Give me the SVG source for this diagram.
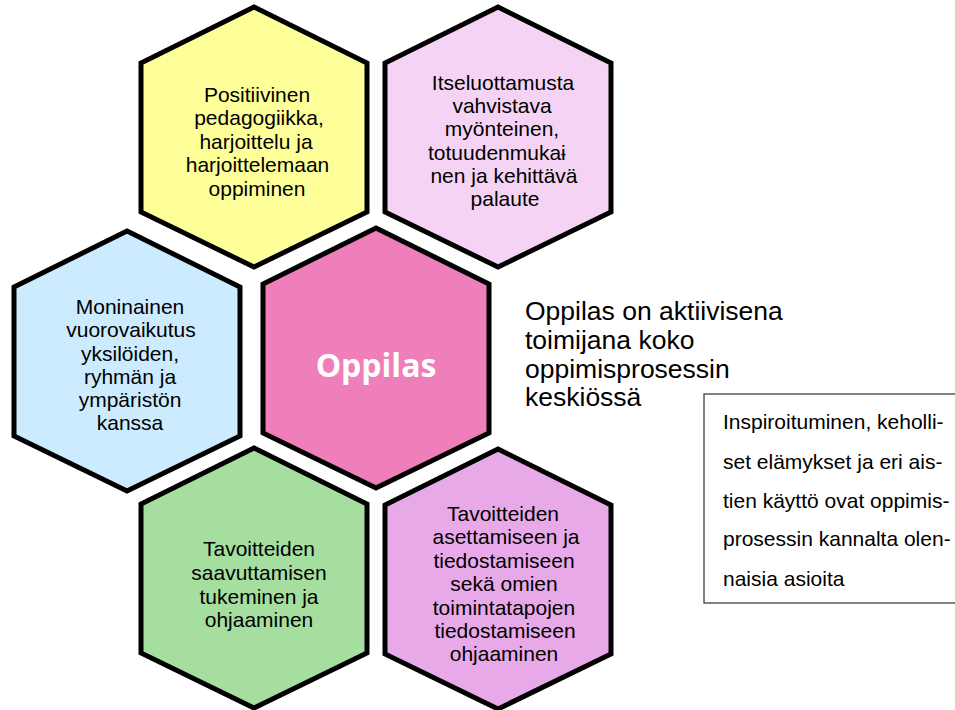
<svg xmlns="http://www.w3.org/2000/svg" width="955" height="710" viewBox="0 0 955 710">
<style>
.hex{stroke:#000;stroke-width:5;stroke-linejoin:miter}
.t{font-family:"Liberation Sans",Arial,sans-serif;font-size:21px;fill:#000;text-anchor:middle}
.big{font-family:"Liberation Sans",Arial,sans-serif;font-size:26.5px;fill:#000}
.box{font-family:"Liberation Sans",Arial,sans-serif;font-size:21px;fill:#000}
.center{font-family:"Open Sans","Lato",sans-serif;font-weight:bold;font-size:32px;fill:#fff;text-anchor:middle}
</style>
<defs>
<polygon id="hx" points="0,-130 113,-74 113,75 0,130 -113,75 -113,-74"/>
</defs>
<rect width="955" height="710" fill="#fff"/>
<g id="connectors"/>
<g id="n-yellow">
<use href="#hx" x="254" y="137" class="hex" fill="#FFFF99"/>
<text class="t"><tspan x="257" y="101.5">Positiivinen</tspan><tspan x="259" y="125">pedagogiikka,</tspan><tspan x="256" y="148.5">harjoittelu ja</tspan><tspan x="257.5" y="172">harjoittelemaan</tspan><tspan x="257" y="195.5">oppiminen</tspan></text>
</g>
<g id="n-lightpink">
<use href="#hx" x="498" y="137" class="hex" fill="#F4D3F4"/>
<text class="t"><tspan x="503" y="89.5">Itseluottamusta</tspan><tspan x="502" y="113">vahvistava</tspan><tspan x="502" y="136">myönteinen,</tspan></text>
<text class="t" style="text-anchor:start" x="428" y="159.5">totuudenmukaɨ</text>
<text class="t"><tspan x="504" y="183">nen ja kehittävä</tspan><tspan x="505" y="206">palaute</tspan></text>
</g>
<g id="n-blue">
<use href="#hx" x="127" y="361" class="hex" fill="#CCEBFF"/>
<text class="t"><tspan x="130" y="313.5">Moninainen</tspan><tspan x="131" y="337">vuorovaikutus</tspan><tspan x="130" y="360.5">yksilöiden,</tspan><tspan x="130" y="384">ryhmän ja</tspan><tspan x="130" y="407">ympäristön</tspan><tspan x="130" y="430">kanssa</tspan></text>
</g>
<g id="n-oppilas">
<use href="#hx" x="376" y="358" class="hex" fill="#EE7FBA"/>
<text class="center" x="376" y="377">Oppilas</text>
</g>
<g id="n-green">
<use href="#hx" x="254" y="578" class="hex" fill="#A5DE9F"/>
<text class="t"><tspan x="259" y="555.5">Tavoitteiden</tspan><tspan x="259" y="579.5">saavuttamisen</tspan><tspan x="259" y="603.5">tukeminen ja</tspan><tspan x="259" y="627">ohjaaminen</tspan></text>
</g>
<g id="n-purple">
<use href="#hx" x="498" y="579" class="hex" fill="#E8A9E8"/>
<text class="t"><tspan x="503" y="520.5">Tavoitteiden</tspan><tspan x="506" y="544">asettamiseen ja</tspan><tspan x="504" y="567.5">tiedostamiseen</tspan><tspan x="504" y="591">sekä omien</tspan><tspan x="504" y="614.5">toimintatapojen</tspan><tspan x="505" y="637.5">tiedostamiseen</tspan><tspan x="504" y="660.5">ohjaaminen</tspan></text>
</g>
<g id="n-caption">
<text class="big"><tspan x="525" y="320">Oppilas on aktiivisena</tspan><tspan x="525" y="349">toimijana koko</tspan><tspan x="525" y="377.5">oppimisprosessin</tspan><tspan x="525" y="406">keskiössä</tspan></text>
</g>
<g id="n-box">
<rect x="704" y="394" width="270" height="209" fill="#fff" stroke="#404040" stroke-width="1.3"/>
<text class="box"><tspan x="723" y="429">Inspiroituminen, keholli-</tspan><tspan x="723" y="469">set elämykset ja eri ais-</tspan><tspan x="723" y="507.5">tien käyttö ovat oppimis-</tspan><tspan x="723" y="546">prosessin kannalta olen-</tspan><tspan x="723" y="585.5">naisia asioita</tspan></text>
</g>
</svg>
